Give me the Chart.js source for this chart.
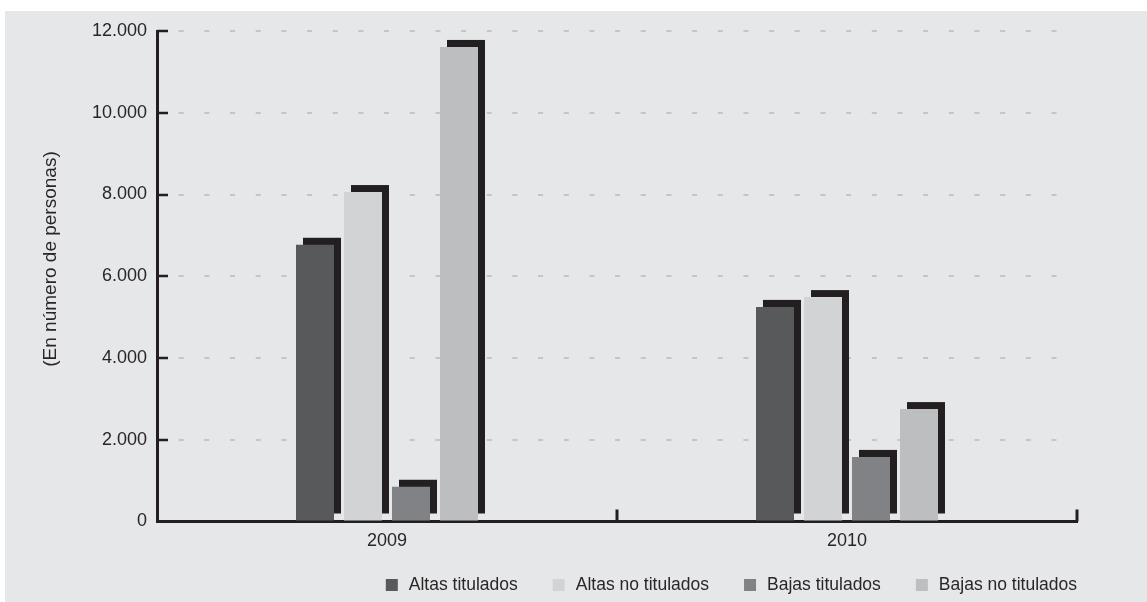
<!DOCTYPE html>
<html>
<head>
<meta charset="utf-8">
<script src="https://cdn.jsdelivr.net/npm/chart.js@4/dist/chart.umd.min.js"></script>
<style>
html,body{margin:0;padding:0;background:#ffffff;}
#wrap{width:1147px;height:602px;position:relative;}
canvas{display:block;}
</style>
</head>
<body>
<div id="wrap"><canvas id="c" width="1147" height="602"></canvas></div>
<script>
// ---- data ----
const categories = ['2009', '2010'];
const seriesNames = ['Altas titulados', 'Altas no titulados', 'Bajas titulados', 'Bajas no titulados'];
const altasTitulados = [6770, 5250];
const altasNoTitulados = [8060, 5490];
const bajasTitulados = [850, 1580];
const bajasNoTitulados = [11610, 2750];
const yTickValues = [0, 2000, 4000, 6000, 8000, 10000, 12000];
const yTickLabels = ['0', '2.000', '4.000', '6.000', '8.000', '10.000', '12.000'];
const axisTitle = '(En número de personas)';

// ---- styles ----
const seriesColors = ['#58595b', '#d1d3d4', '#808285', '#bcbec0'];
const bgColor = '#e6e7e8';
const inkColor = '#231f20';
const textColor = '#2a2627';
const fontFamily = "'Liberation Sans', Arial, Helvetica, sans-serif";
const shadowDx = 7, shadowDy = 7;

const seriesValues = [altasTitulados, altasNoTitulados, bajasTitulados, bajasNoTitulados];

const backgroundPlugin = {
  id: 'bg',
  beforeDraw(chart) {
    const ctx = chart.ctx;
    ctx.save();
    ctx.fillStyle = bgColor;
    ctx.fillRect(5, 11, chart.width - 5, chart.height - 11);
    ctx.restore();
  }
};

const shadowPlugin = {
  id: 'barShadow',
  beforeDatasetsDraw(chart) {
    const ctx = chart.ctx;
    ctx.save();
    ctx.fillStyle = inkColor;
    chart.data.datasets.forEach((ds, di) => {
      const meta = chart.getDatasetMeta(di);
      if (meta.hidden) return;
      meta.data.forEach(el => {
        const p = el.getProps(['x', 'y', 'base', 'width'], true);
        ctx.fillRect(p.x - p.width / 2 + shadowDx, p.y - shadowDy, p.width, p.base - p.y);
      });
    });
    ctx.restore();
  }
};

const decorPlugin = {
  id: 'decor',
  afterDraw(chart) {
    const ctx = chart.ctx;
    const ca = chart.chartArea;
    const ys = chart.scales.y;
    const xs = chart.scales.x;
    ctx.save();
    ctx.strokeStyle = inkColor;
    // inward y ticks
    ctx.lineWidth = 2.5;
    yTickValues.forEach(v => {
      if (v === 0) return;
      const py = Math.round(ys.getPixelForValue(v));
      ctx.beginPath();
      ctx.moveTo(ca.left, py);
      ctx.lineTo(ca.left + 11, py);
      ctx.stroke();
    });
    // inward x ticks at category boundaries
    ctx.lineWidth = 3;
    for (let i = 1; i <= categories.length; i++) {
      const px = i < categories.length
        ? (xs.getPixelForValue(i - 1) + xs.getPixelForValue(i)) / 2
        : ca.right;
      ctx.beginPath();
      ctx.moveTo(px, ca.bottom);
      ctx.lineTo(px, ca.bottom - 12);
      ctx.stroke();
    }
    // axis title
    ctx.fillStyle = textColor;
    ctx.font = '19px ' + fontFamily;
    ctx.textAlign = 'center';
    ctx.textBaseline = 'alphabetic';
    ctx.translate(56, 259);
    ctx.rotate(-Math.PI / 2);
    ctx.fillText(axisTitle, 0, 0);
    ctx.restore();

    // legend (right aligned to the plot's right edge)
    ctx.save();
    ctx.font = '17.5px ' + fontFamily;
    ctx.textBaseline = 'middle';
    ctx.textAlign = 'left';
    const cy = 585;
    let x = ca.right;
    for (let i = seriesNames.length - 1; i >= 0; i--) {
      const w = ctx.measureText(seriesNames[i]).width;
      const tx = x - w;
      ctx.fillStyle = textColor;
      ctx.fillText(seriesNames[i], tx, cy);
      const bx = tx - 11 - 12;
      ctx.fillStyle = seriesColors[i];
      ctx.fillRect(bx, cy - 6, 12, 12);
      x = bx - 35;
    }
    ctx.restore();
  }
};

new Chart(document.getElementById('c'), {
  type: 'bar',
  data: {
    labels: categories,
    datasets: seriesNames.map((name, i) => ({
      label: name,
      data: seriesValues[i],
      backgroundColor: seriesColors[i],
      borderWidth: 0,
      categoryPercentage: 0.4174,
      barPercentage: 0.7917
    }))
  },
  options: {
    responsive: false,
    devicePixelRatio: 1,
    animation: false,
    layout: { padding: { top: 31, right: 70, left: 0, bottom: 0 } },
    plugins: {
      legend: { display: false },
      tooltip: { enabled: false },
      title: { display: false }
    },
    scales: {
      x: {
        offset: true,
        z: 1,
        grid: { display: false, drawTicks: false },
        border: { display: true, color: inkColor, width: 3 },
        ticks: { color: textColor, font: { family: fontFamily, size: 18 }, padding: 9, maxRotation: 0 },
        afterFit(s) { s.height = 80.5; }
      },
      y: {
        min: 0,
        max: 12000,
        afterBuildTicks(s) { s.ticks = yTickValues.map(v => ({ value: v })); },
        grid: { color: '#c3c5c7', lineWidth: 2, drawTicks: false },
        border: { display: true, color: inkColor, width: 3, dash: [5, 20.67], dashOffset: 5.97 },
        ticks: {
          color: textColor,
          font: { family: fontFamily, size: 18 },
          padding: 10,
          callback(value, index) { return yTickLabels[index]; }
        },
        afterFit(s) { s.width = 157; }
      }
    }
  },
  plugins: [backgroundPlugin, shadowPlugin, decorPlugin]
});
</script>
</body>
</html>
